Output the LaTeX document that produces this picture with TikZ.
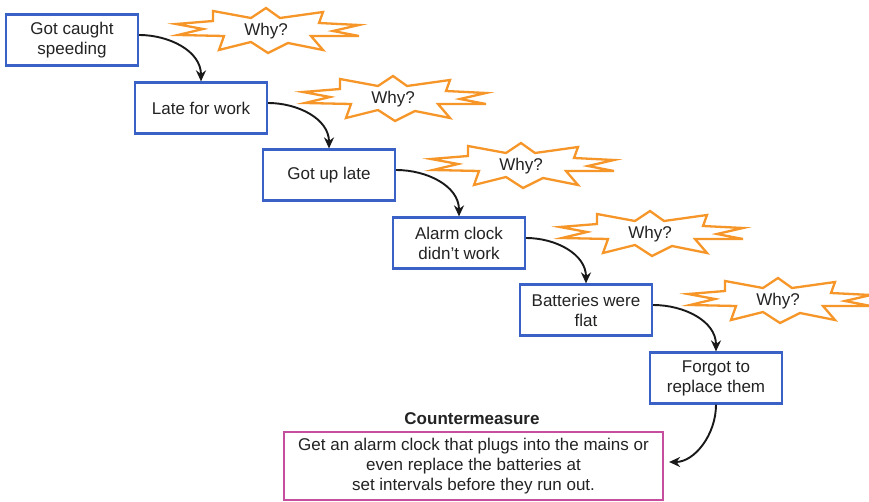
\documentclass[tikz,border=0pt]{standalone}
\usepackage{fontspec}
\setmainfont{Liberation Sans}
\usetikzlibrary{arrows.meta}
\definecolor{boxblue}{RGB}{58,98,198}
\definecolor{burstorange}{RGB}{246,150,40}
\definecolor{cmpink}{RGB}{198,78,158}
\definecolor{inkgray}{RGB}{35,35,35}
\definecolor{arrowink}{RGB}{25,25,25}
\tikzset{
  stepbox/.style={draw=boxblue, line width=2.2pt, fill=white, text=inkgray,
    minimum width=132pt, minimum height=51pt, inner sep=0pt, align=center,
    font=\fontsize{17}{20}\selectfont},
  cmbox/.style={draw=cmpink, line width=2.2pt, fill=white, text=inkgray,
    minimum width=379pt, minimum height=68pt, inner sep=0pt, align=center,
    font=\fontsize{17}{20}\selectfont},
  flow/.style={arrowink, line width=1.9pt, -{Stealth[length=11pt,width=10pt]}},
  burstline/.style={draw=burstorange, line width=2.3pt, line join=miter, fill=white},
  whytext/.style={text=inkgray, inner sep=0pt, font=\fontsize{17}{20}\selectfont},
  burst/.pic={
    \path[burstline] (0,-23) -- (14,-13) -- (57,-19) -- (53,-8) -- (93,-6)
      -- (67,0) -- (93,5) -- (45,5) -- (57,19) -- (22,12) -- (2,22)
      -- (-15,11) -- (-47,19) -- (-42,5) -- (-88,4) -- (-63,-2)
      -- (-90,-7) -- (-53,-10) -- (-53,-20) -- (-15,-13) -- cycle;
    \node[whytext] (-t) at (0,0) {Why?};
  }
}
\begin{document}
\begin{tikzpicture}[x=1pt, y=-1pt]
  \useasboundingbox[fill=white] (0,0) rectangle (869,502);

  % "Why?" bursts beside each step
  \pic (w1) at (266,31) {burst};
  \pic (w2) at (393,99) {burst};
  \pic (w3) at (521,166) {burst};
  \pic (w4) at (650,234) {burst};
  \pic (w5) at (778,301) {burst};

  % chain of causes
  \node[stepbox] (s1) at (72,40)   {Got caught\\speeding};
  \node[stepbox] (s2) at (201,108) {Late for work};
  \node[stepbox] (s3) at (329,175) {Got up late};
  \node[stepbox] (s4) at (459,243) {Alarm clock\\didn't work};
  \node[stepbox] (s5) at (586,310) {Batteries were\\flat};
  \node[stepbox] (s6) at (716,378) {Forgot to\\replace them};

  % countermeasure
  \node[cmbox] (cm) at (473.5,466) {Get an alarm clock that plugs into the mains or\\even replace the batteries at\\set intervals before they run out.};
  \node[text=inkgray, inner sep=0pt, font=\fontsize{17}{20}\selectfont\bfseries]
    (cmlabel) at (472,419) {Countermeasure};

  % connectors
  \draw[flow] ([yshift=5pt]s1.east) to[out=0, in=90] (s2.north);
  \draw[flow] ([yshift=5pt]s2.east) to[out=0, in=90] (s3.north);
  \draw[flow] ([yshift=5pt]s3.east) to[out=0, in=90] (s4.north);
  \draw[flow] ([yshift=5pt]s4.east) to[out=0, in=90] (s5.north);
  \draw[flow] ([yshift=5pt]s5.east) to[out=0, in=90] (s6.north);
  \draw[flow, shorten >=5pt] (s6.south) to[out=-90, in=0] ([yshift=4pt]cm.east);
\end{tikzpicture}
\end{document}
